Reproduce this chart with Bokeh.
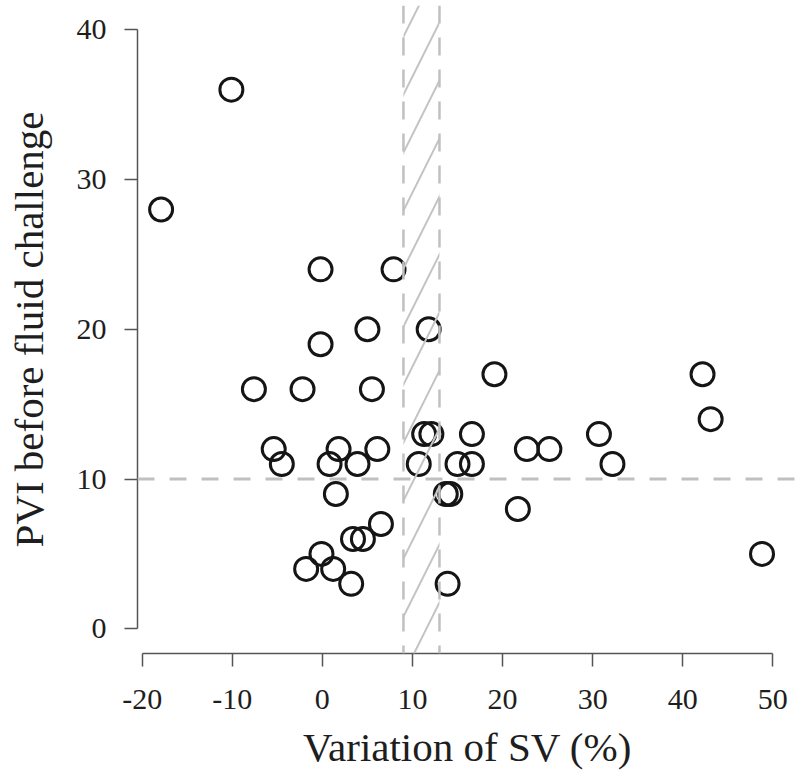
from bokeh.plotting import figure
from bokeh.models import Range1d, FixedTicker, Span, BoxAnnotation, ColumnDataSource
from bokeh.embed import file_html
from bokeh.resources import INLINE

# ---- data ----
sv_variation = [-17.9, -10.1, -0.2, 7.9, 5.0, 11.8, -0.2, -7.6, -2.2, 5.5,
                19.1, 42.2, 43.1, 30.7, -5.4, -4.5, 1.8, 0.8, 3.9, 6.1,
                1.5, -1.8, -0.1, 1.2, 3.2, 3.4, 4.5, 6.5, 10.7, 11.3,
                12.1, 13.7, 14.2, 13.9, 15.0, 16.6, 16.6, 21.7, 22.7, 25.2,
                32.2, 48.8]
pvi_before = [28, 36, 24, 24, 20, 20, 19, 16, 16, 16,
              17, 17, 14, 13, 12, 11, 12, 11, 11, 12,
              9, 4, 5, 4, 3, 6, 6, 7, 11, 13,
              13, 9, 9, 3, 11, 13, 11, 8, 12, 12,
              11, 5]
x_ticks = [-20, -10, 0, 10, 20, 30, 40, 50]
y_ticks = [0, 10, 20, 30, 40]
pvi_threshold = 10
grey_zone = (9, 13)

FONT = "Liberation Serif"

p = figure(width=800, height=781, output_backend="svg", toolbar_location=None,
           x_range=Range1d(-20.52, 52.74), y_range=Range1d(-1.65, 41.62),
           min_border_left=137, min_border_right=3, min_border_top=5,
           min_border_bottom=128)
p.outline_line_color = None
p.xgrid.visible = False
p.ygrid.visible = False
p.background_fill_color = "white"
p.border_fill_color = "white"

src = ColumnDataSource(dict(x=sv_variation, y=pvi_before))
p.scatter("x", "y", source=src, marker="circle", size=23,
          fill_color=None, line_color="#151515", line_width=3)

# grey zone band with hatch
band = BoxAnnotation(left=grey_zone[0], right=grey_zone[1],
                     fill_alpha=0, line_alpha=0,
                     hatch_pattern="/", hatch_color="#c4c4c4",
                     hatch_weight=2, hatch_scale=58, hatch_alpha=1.0)
p.add_layout(band)
for xv in grey_zone:
    p.add_layout(Span(location=xv, dimension="height", line_color="#c0c0c0",
                      line_width=2.5, line_dash="18 14"))
p.add_layout(Span(location=pvi_threshold, dimension="width", line_color="#c0c0c0",
                  line_width=3, line_dash="17 15"))

for ax, ticks in ((p.xaxis[0], x_ticks), (p.yaxis[0], y_ticks)):
    ax.ticker = FixedTicker(ticks=ticks)
    ax.bounds = (ticks[0], ticks[-1])
    ax.major_label_overrides = {t: str(t) for t in ticks}
    ax.axis_line_color = "#555555"
    ax.axis_line_width = 1.5
    ax.major_tick_line_color = "#555555"
    ax.major_tick_line_width = 1.5
    ax.major_tick_out = 13
    ax.major_tick_in = 0
    ax.minor_tick_line_color = None
    ax.major_label_text_font = FONT
    ax.major_label_text_font_size = "30px"
    ax.major_label_text_color = "#1e1e1e"
    ax.axis_label_text_font = FONT
    ax.axis_label_text_font_size = "41px"
    ax.axis_label_text_font_style = "normal"
    ax.axis_label_text_color = "#1e1e1e"

p.xaxis[0].axis_label = "Variation of SV (%)"
p.xaxis[0].major_label_standoff = 23
p.xaxis[0].axis_label_standoff = 12
p.yaxis[0].axis_label = "PVI before fluid challenge"
p.yaxis[0].major_label_standoff = 18
p.yaxis[0].axis_label_standoff = 22

open("out.html", "w").write(file_html(p, INLINE))
